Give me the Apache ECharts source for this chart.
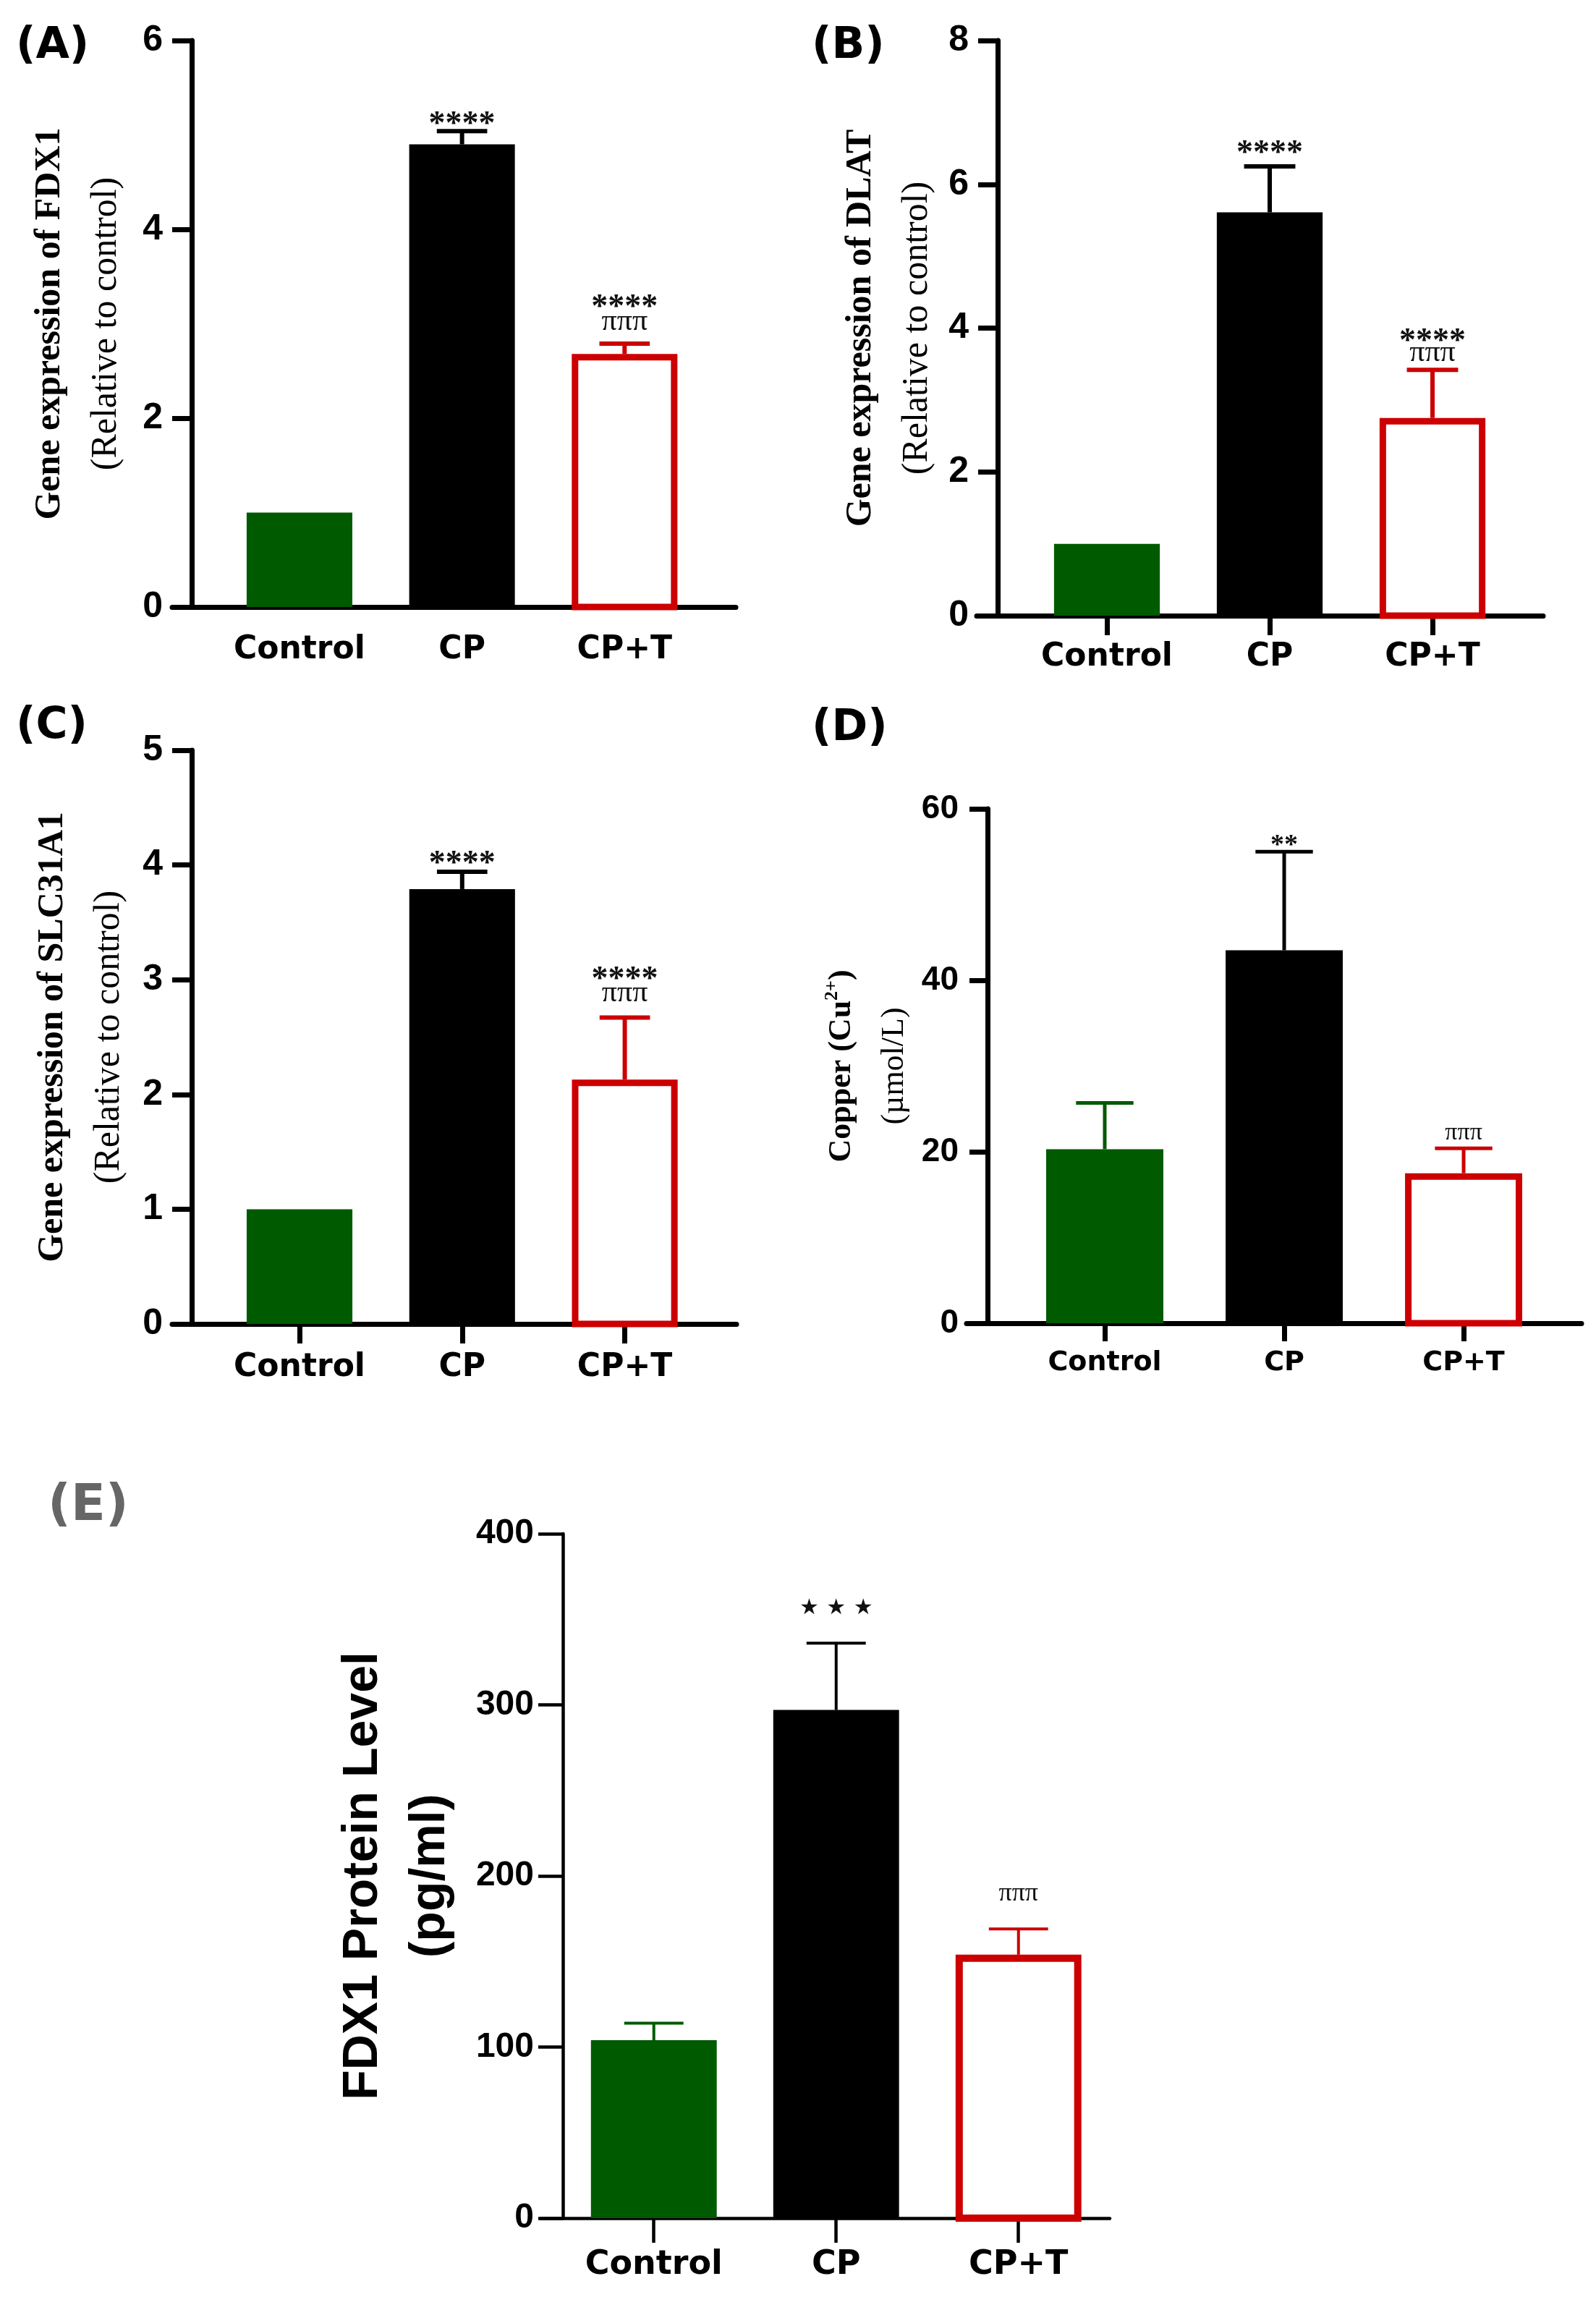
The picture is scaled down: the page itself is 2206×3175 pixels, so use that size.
<!DOCTYPE html>
<html>
<head>
<meta charset="utf-8">
<script src="https://cdn.jsdelivr.net/npm/echarts@6/dist/echarts.min.js"></script>
<style>
  html, body { margin: 0; background: #fff; }
  #chart { width: 2206px; height: 3175px; }
</style>
</head>
<body>
<div id="chart"></div>
<script>
// groups on the x axis of every panel
const groups = ['Control', 'CP', 'CP+T'];

// (A) FDX1 gene expression
const fdx1Mean = [1, 4.9, 2.68];
const fdx1Err = [0, 0.14, 0.11];
const fdx1Stars = ['', '****', '****'];
const fdx1Pi = ['', '', 'πππ'];

// (B) DLAT gene expression
const dlatMean = [1, 5.61, 2.75];
const dlatErr = [0, 0.64, 0.67];
const dlatStars = ['', '****', '****'];
const dlatPi = ['', '', 'πππ'];

// (C) SLC31A1 gene expression
const slcMean = [1, 3.79, 2.13];
const slcErr = [0, 0.15, 0.54];
const slcStars = ['', '****', '****'];
const slcPi = ['', '', 'πππ'];

// (D) serum copper
const copperMean = [20.3, 43.5, 17.5];
const copperErr = [5.4, 11.5, 2.9];
const copperStars = ['', '**', ''];
const copperPi = ['', '', 'πππ'];

// (E) FDX1 protein
const proteinMean = [104, 297, 154];
const proteinErr = [10, 39, 15];
const proteinStars = ['', '★ ★ ★', ''];
const proteinPi = ['', '', 'πππ'];

const GREEN = '#005a00';
const RED = '#cc0000';
const groupColors = [GREEN, '#000000', RED];

const serif = 'Liberation Serif';
const sans = 'Liberation Sans';
const wide = 'DejaVu Sans';

const geneName = gene => `{b|Gene expression of ${gene}}\n{r|(Relative to control)}`;
const geneRich = {
  b: { fontFamily: serif, fontWeight: 'bold', fontSize: 50, lineHeight: 77, color: '#000' },
  r: { fontFamily: serif, fontSize: 50, lineHeight: 77, color: '#000' }
};

const panels = [
  {
    tag: '(A)', tagPos: [22, 34], mean: fdx1Mean, err: fdx1Err, stars: fdx1Stars, pi: fdx1Pi,
    yMax: 6, yStep: 2, name: geneName('FDX1'), rich: geneRich, nameGap: 80,
    grid: { left: 238, top: 56, width: 779, height: 783 }, xRange: [-0.783, 2.684], shift: 27,
    xTicks: false, axisW: 7, tickLen: 27, labelFont: [wide, 44], tickFont: 50, labelMargin: 38,
    barW: 0.65, capW: 0.31, outline: 9, errW: 6, gaps: [8, 49, 30], starFont: [serif, 46], piFont: 42
  },
  {
    tag: '(B)', tagPos: [1122, 34], mean: dlatMean, err: dlatErr, stars: dlatStars, pi: dlatPi,
    yMax: 8, yStep: 2, name: geneName('DLAT'), rich: geneRich, nameGap: 73,
    grid: { left: 1350, top: 56, width: 783, height: 795 }, xRange: [-0.8, 2.68], shift: 29,
    xTicks: true, axisW: 7, tickLen: 27, labelFont: [wide, 44], tickFont: 50, labelMargin: 36,
    barW: 0.65, capW: 0.315, outline: 9, errW: 6, gaps: [17, 38, 23], starFont: [serif, 46], piFont: 42
  },
  {
    tag: '(C)', tagPos: [22, 974], mean: slcMean, err: slcErr, stars: slcStars, pi: slcPi,
    yMax: 5, yStep: 1, name: geneName('SLC31A1'), rich: geneRich, nameGap: 76,
    grid: { left: 238, top: 1037, width: 780, height: 793 }, xRange: [-0.783, 2.687], shift: 27,
    xTicks: true, axisW: 7, tickLen: 27, labelFont: [wide, 44], tickFont: 50, labelMargin: 39,
    barW: 0.65, capW: 0.31, outline: 9, errW: 6, gaps: [10, 51, 34], starFont: [serif, 46], piFont: 42
  },
  {
    tag: '(D)', tagPos: [1122, 977], mean: copperMean, err: copperErr, stars: copperStars, pi: copperPi,
    yMax: 60, yStep: 20, nameGap: 92,
    name: '{b|Copper (Cu}{s|2+}{b|)}\n{r|(µmol/L)}',
    rich: {
      b: { fontFamily: serif, fontWeight: 'bold', fontSize: 44, lineHeight: 73, color: '#000' },
      s: { fontFamily: serif, fontWeight: 'bold', fontSize: 26, lineHeight: 73, padding: [0, 0, 26, 0], color: '#000' },
      r: { fontFamily: serif, fontSize: 44, lineHeight: 73, color: '#000' }
    },
    grid: { left: 1336, top: 1118, width: 850, height: 711 }, xRange: [-0.77, 2.657], shift: 29,
    xTicks: true, axisW: 7, tickLen: 25, labelFont: [wide, 38], tickFont: 46, labelMargin: 36,
    barW: 0.653, capW: 0.32, outline: 9, errW: 5, gaps: [8, 40, 21], starFont: [serif, 38], piFont: 34
  },
  {
    tag: '(E)', tagPos: [66, 2048], mean: proteinMean, err: proteinErr, stars: proteinStars, pi: proteinPi,
    yMax: 400, yStep: 100, nameGap: 136,
    name: '{b|FDX1 Protein Level}\n{b|(pg/ml)}',
    rich: { b: { fontFamily: sans, fontWeight: 'bold', fontSize: 68, lineHeight: 93, color: '#000' } },
    grid: { left: 748, top: 2120, width: 786, height: 946 }, xRange: [-0.618, 2.501], shift: 30,
    xTicks: true, axisW: 4.5, tickLen: 34, labelFont: [wide, 46], tickFont: 48, labelMargin: 42,
    barW: 0.69, capW: 0.325, outline: 10, errW: 4, gaps: [48, 48, 49], starFont: [wide, 30], piFont: 36
  }
];

function renderBars(p) {
  return function (params, api) {
    const i = api.value(0);
    const m = api.value(1);
    const e = api.value(2);
    const base = api.coord([i, 0]);
    const top = api.coord([i, m]);
    const halfW = api.size([p.barW, 0])[0] / 2;
    const capHalf = api.size([p.capW, 0])[0] / 2;
    const color = groupColors[i];
    const children = [];

    if (i === 2) {
      const o = p.outline / 2;
      children.push({
        type: 'rect',
        shape: { x: top[0] - halfW + o, y: top[1] + o, width: 2 * halfW - 2 * o, height: base[1] - top[1] - o },
        style: { fill: '#fff', stroke: RED, lineWidth: p.outline }
      });
    } else {
      children.push({
        type: 'rect',
        shape: { x: top[0] - halfW, y: top[1], width: 2 * halfW, height: base[1] - top[1] },
        style: { fill: color }
      });
    }

    let capY = top[1];
    if (e > 0) {
      capY = api.coord([i, m + e])[1];
      children.push({
        type: 'line',
        shape: { x1: top[0], y1: top[1], x2: top[0], y2: capY },
        style: { stroke: color, lineWidth: p.errW }
      });
      children.push({
        type: 'line',
        shape: { x1: top[0] - capHalf, y1: capY, x2: top[0] + capHalf, y2: capY },
        style: { stroke: color, lineWidth: p.errW }
      });
    }

    const star = p.stars[i];
    const pi = p.pi[i];
    if (star) {
      children.push({
        type: 'text',
        style: {
          text: star, x: top[0], y: capY - (pi ? p.gaps[1] : p.gaps[0]),
          fontFamily: p.starFont[0], fontSize: p.starFont[1], fontWeight: 'bold',
          fill: '#111', align: 'center', verticalAlign: 'middle'
        }
      });
    }
    if (pi) {
      children.push({
        type: 'text',
        style: {
          text: pi, x: top[0], y: capY - p.gaps[2],
          fontFamily: serif, fontSize: p.piFont,
          fill: '#111', align: 'center', verticalAlign: 'middle'
        }
      });
    }
    return { type: 'group', children };
  };
}

const chart = echarts.init(document.getElementById('chart'));

chart.setOption({
  backgroundColor: '#fff',
  animation: false,
  title: panels.map((p, k) => ({
    text: p.tag,
    left: p.tagPos[0],
    top: p.tagPos[1],
    padding: 0,
    textStyle: {
      fontFamily: wide,
      fontWeight: 'bold',
      fontSize: k === 4 ? 70 : 60,
      color: k === 4 ? '#666666' : '#000000'
    }
  })),
  grid: panels.map(p => Object.assign({ outerBoundsMode: 'none', containLabel: false }, p.grid)),
  xAxis: panels.map((p, k) => ({
    type: 'value',
    gridIndex: k,
    min: p.xRange[0],
    max: p.xRange[1],
    splitLine: { show: false },
    axisLine: { show: true, onZero: false, lineStyle: { color: '#000', width: p.axisW } },
    axisTick: {
      show: p.xTicks, customValues: [0, 1, 2], length: p.tickLen,
      lineStyle: { color: '#000', width: p.axisW }
    },
    axisLabel: {
      customValues: [0, 1, 2],
      formatter: v => groups[Math.round(v)] || '',
      fontFamily: p.labelFont[0], fontWeight: 'bold', fontSize: p.labelFont[1],
      color: '#000', margin: p.labelMargin
    }
  })),
  yAxis: panels.map((p, k) => ({
    type: 'value',
    gridIndex: k,
    min: 0,
    max: p.yMax,
    interval: p.yStep,
    offset: -p.shift,
    splitLine: { show: false },
    axisLine: { show: true, onZero: false, lineStyle: { color: '#000', width: p.axisW } },
    axisTick: { show: true, length: p.tickLen, lineStyle: { color: '#000', width: p.axisW } },
    axisLabel: {
      fontFamily: sans, fontWeight: 'bold', fontSize: p.tickFont, color: '#000', margin: 40
    },
    name: p.name,
    nameLocation: 'middle',
    nameRotate: 90,
    nameGap: p.nameGap,
    nameMoveOverlap: false,
    nameTextStyle: { rich: p.rich }
  })),
  series: panels.map((p, k) => ({
    type: 'custom',
    xAxisIndex: k,
    yAxisIndex: k,
    renderItem: renderBars(p),
    data: groups.map((g, i) => [i, p.mean[i], p.err[i]])
  }))
});
</script>
</body>
</html>
